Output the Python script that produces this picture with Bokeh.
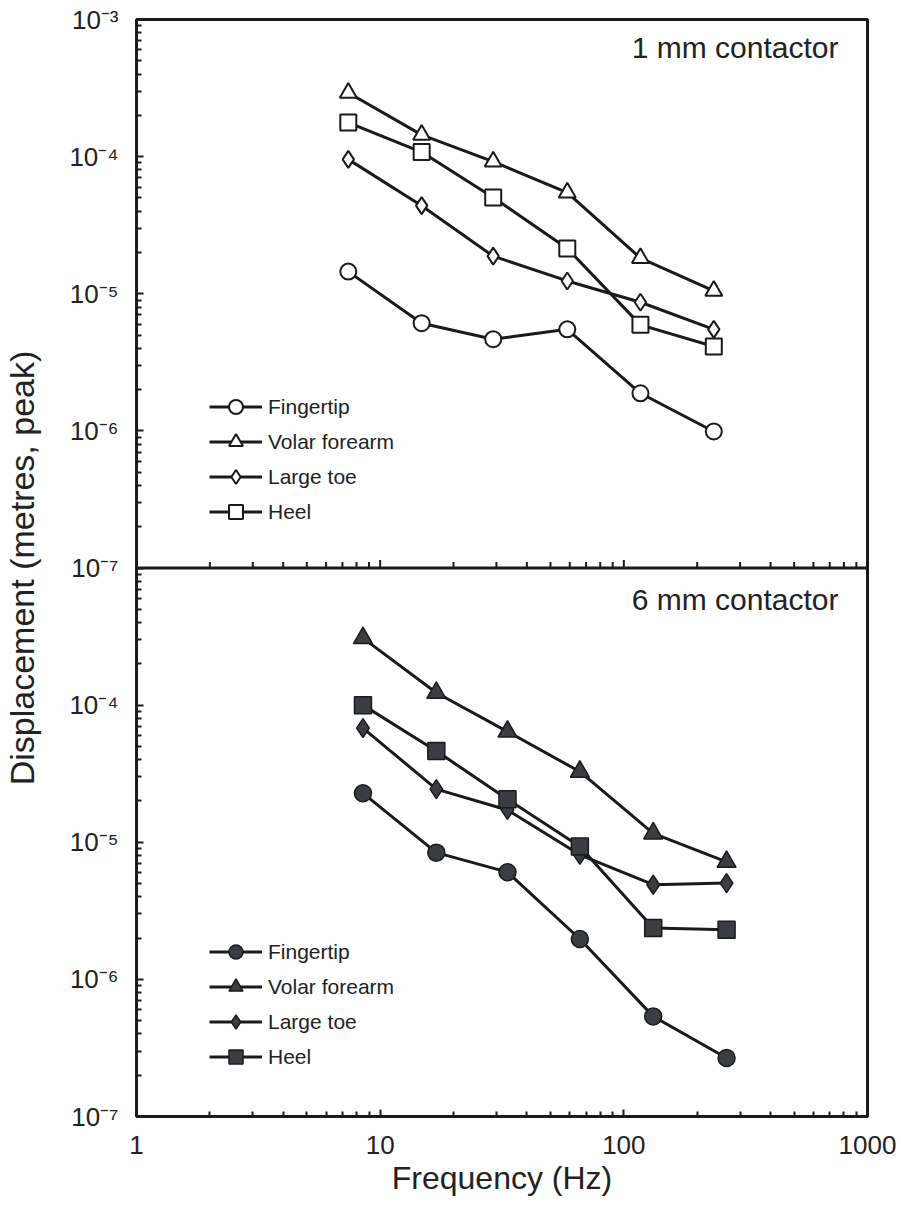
import numpy as np
from bokeh.plotting import figure
from bokeh.models import (FixedTicker, Span, Label, Legend, LegendItem, Range1d,
                          LogScale, CustomJSTickFormatter)
from bokeh.embed import file_html
from bokeh.resources import INLINE

# ---------------- data ----------------
# 1 mm contactor (top panel)
freq_1mm = [7.4, 14.8, 29.1, 58.6, 117, 234]
fingertip_1mm = [1.45e-5, 6.1e-6, 4.66e-6, 5.5e-6, 1.88e-6, 9.9e-7]
forearm_1mm = [2.92e-4, 1.44e-4, 9.2e-5, 5.46e-5, 1.82e-5, 1.05e-5]
toe_1mm = [9.55e-5, 4.39e-5, 1.88e-5, 1.24e-5, 8.67e-6, 5.5e-6]
heel_1mm = [1.77e-4, 1.08e-4, 5.04e-5, 2.14e-5, 5.93e-6, 4.12e-6]

# 6 mm contactor (bottom panel)
freq_6mm = [8.5, 17.0, 33.3, 66.0, 132, 264]
fingertip_6mm = [2.28e-5, 8.4e-6, 6.05e-6, 1.97e-6, 5.37e-7, 2.67e-7]
forearm_6mm = [3.08e-4, 1.23e-4, 6.41e-5, 3.27e-5, 1.16e-5, 7.2e-6]
toe_6mm = [6.8e-5, 2.44e-5, 1.72e-5, 8.1e-6, 4.9e-6, 5.04e-6]
heel_6mm = [1.0e-4, 4.63e-5, 2.06e-5, 9.3e-6, 2.37e-6, 2.3e-6]

series_names = ["Fingertip", "Volar forearm", "Large toe", "Heel"]
panel_titles = ["1 mm contactor", "6 mm contactor"]
x_title = "Frequency (Hz)"
y_title = "Displacement (metres, peak)"

# axis ticks / labels (both panels share one log axis: top panel 1e-3..1e-7,
# bottom panel drawn on the lower four decades and labelled 1e-3..1e-7 again)
x_major = [1, 10, 100, 1000]
x_minor = [2, 3, 4, 5, 6, 7, 8, 9, 20, 30, 40, 50, 60, 70, 80, 90,
           200, 300, 400, 500, 600, 700, 800, 900]
y_major = [1e-3, 1e-4, 1e-5, 1e-6, 1e-7, 1e-8, 1e-9, 1e-10, 1e-11]
y_labels = ["10\u207b\u00b3", "10\u207b\u2074", "10\u207b\u2075", "10\u207b\u2076",
            "10\u207b\u2077", "10\u207b\u2074", "10\u207b\u2075", "10\u207b\u2076",
            "10\u207b\u2077"]
y_minor = [m * d for d in [1e-4, 1e-5, 1e-6, 1e-7, 1e-8, 1e-9, 1e-10, 1e-11]
           for m in range(2, 10)]

FONT = "Liberation Sans"
INK = "#1a1a1a"
TXT = "#222222"
DARK_FILL = "#3a3d42"

FW, FH = 731, 1097

p = figure(x_axis_type="log", y_axis_type="log",
           x_range=Range1d(1, 1000), y_range=Range1d(1e-11, 1e-3),
           frame_width=FW, frame_height=FH,
           min_border_left=135, min_border_top=19, min_border_right=30,
           min_border_bottom=0,
           output_backend="svg", toolbar_location=None)
p.extra_y_ranges = {"six": Range1d(1e-7, 1e1)}
p.extra_y_scales = {"six": LogScale()}

p.xgrid.visible = False
p.ygrid.visible = False
p.outline_line_color = INK
p.outline_line_width = 3
p.background_fill_color = "white"
p.border_fill_color = "white"

xa = p.xaxis[0]
ya = p.yaxis[0]
xa.ticker = FixedTicker(ticks=x_major, minor_ticks=x_minor)
ya.ticker = FixedTicker(ticks=y_major, minor_ticks=y_minor)
xa.formatter = CustomJSTickFormatter(code="return tick.toFixed(0);")
ya.formatter = CustomJSTickFormatter(args=dict(labels=y_labels), code="""
    const k = Math.round(-Math.log10(tick));
    return labels[k - 3];
""")
for ax in (xa, ya):
    ax.axis_line_width = 3
    ax.axis_line_color = INK
    ax.major_tick_in = 7
    ax.major_tick_out = 0
    ax.minor_tick_in = 5
    ax.minor_tick_out = 0
    ax.major_tick_line_width = 2
    ax.minor_tick_line_width = 2
    ax.major_tick_line_color = INK
    ax.minor_tick_line_color = INK
    ax.major_label_text_font = FONT
    ax.major_label_text_font_size = "26px"
    ax.major_label_text_color = TXT
    ax.axis_label_text_font = FONT
    ax.axis_label_text_font_style = "normal"
    ax.axis_label_text_color = TXT

ya.major_label_standoff = 18
ya.axis_label = y_title
ya.axis_label_text_font_size = "34px"
ya.axis_label_standoff = 25
xa.major_label_standoff = 19
xa.axis_label = x_title
xa.axis_label_text_font_size = "32px"
xa.axis_label_standoff = 3

# middle divider with upward ticks
p.add_layout(Span(location=1e-7, dimension="width", line_color=INK, line_width=3))
p.ray(x=x_minor, y=1e-7, length=6, length_units="screen", angle=np.pi / 2,
      line_color=INK, line_width=2)
p.ray(x=x_major[1:3], y=1e-7, length=8, length_units="screen", angle=np.pi / 2,
      line_color=INK, line_width=2)

markers = ["circle", "triangle", "diamond", "square"]
top_sizes = [16, 17, 17, 16]
bot_sizes = [17, 19, 19, 17]
top_data = [fingertip_1mm, forearm_1mm, toe_1mm, heel_1mm]
bot_data = [fingertip_6mm, forearm_6mm, toe_6mm, heel_6mm]

top_items = []
for name, ys, mk, sz in zip(series_names, top_data, markers, top_sizes):
    l = p.line(freq_1mm, ys, line_color=INK, line_width=3)
    s = p.scatter(freq_1mm, ys, marker=mk, size=sz, fill_color="white",
                  line_color=INK, line_width=2)
    top_items.append(LegendItem(label=name, renderers=[l, s]))

bot_items = []
for name, ys, mk, sz in zip(series_names, bot_data, markers, bot_sizes):
    l = p.line(freq_6mm, ys, line_color=INK, line_width=3, y_range_name="six")
    s = p.scatter(freq_6mm, ys, marker=mk, size=sz, fill_color=DARK_FILL,
                  line_color=INK, line_width=1.5, y_range_name="six")
    bot_items.append(LegendItem(label=name, renderers=[l, s]))


def make_legend(items, loc):
    lg = Legend(items=items, location=loc, orientation="vertical",
                glyph_width=53, glyph_height=35, spacing=0, padding=0, margin=0,
                label_standoff=6, label_text_font=FONT, label_text_font_size="21px",
                label_text_color=TXT, border_line_alpha=0, background_fill_alpha=0)
    return lg


p.add_layout(make_legend(top_items, (73, 587)))
p.add_layout(make_legend(bot_items, (73, 42)))

p.add_layout(Label(x=FW - 29, y=FH - 28, x_units="screen", y_units="screen",
                   text=panel_titles[0], text_align="right", text_baseline="middle",
                   text_font=FONT, text_font_size="30px", text_color=TXT))
p.add_layout(Label(x=FW - 29, y=517, x_units="screen", y_units="screen",
                   text=panel_titles[1], text_align="right", text_baseline="middle",
                   text_font=FONT, text_font_size="30px", text_color=TXT))

open("out.html", "w").write(file_html(p, INLINE))
